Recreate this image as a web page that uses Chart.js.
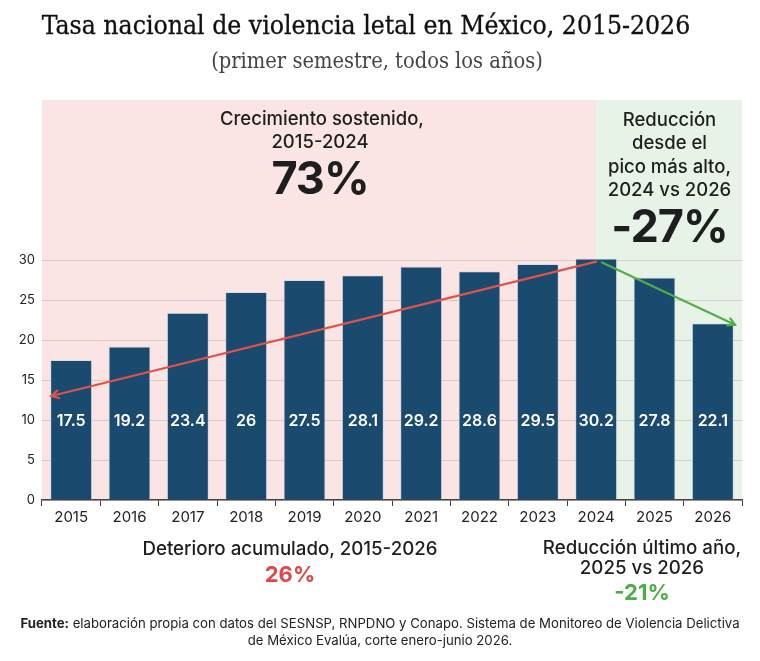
<!DOCTYPE html>
<html>
<head>
<meta charset="utf-8">
<script src="https://cdn.jsdelivr.net/npm/chart.js@4.4.1/dist/chart.umd.min.js"></script>
<style>
  html,body{margin:0;padding:0;background:#fff;}
  #wrap{position:relative;width:760px;height:661px;overflow:hidden;background:#fff;}
  #c{position:absolute;left:0;top:0;}
  .txt{position:absolute;text-align:center;white-space:nowrap;color:#1e1e1e;font-family:Inter,"Noto Sans",sans-serif;}
  .serif{font-family:"DejaVu Serif",serif;font-stretch:condensed;}
</style>
</head>
<body>
<div id="wrap">
  <canvas id="c" width="760" height="661"></canvas>
  <div class="txt serif" style="left:0;width:732px;top:10px;font-size:26.3px;color:#111;-webkit-text-stroke:0.3px #111;">Tasa nacional de violencia letal en México, 2015-2026</div>
  <div class="txt serif" style="left:0;width:754px;top:48px;font-size:21.7px;color:#444;">(primer semestre, todos los años)</div>

  <div class="txt" style="left:220px;width:200px;top:107px;font-size:18.5px;font-weight:500;line-height:23px;">Crecimiento sostenido,<br>2015-2024</div>
  <div class="txt" style="left:220px;width:200px;top:153px;font-size:45px;font-weight:700;line-height:50px;letter-spacing:-1px;">73%</div>

  <div class="txt" style="left:597px;width:145px;top:108px;font-size:18.5px;font-weight:500;line-height:23.3px;">Reducción<br>desde el<br>pico más alto,<br>2024 vs 2026</div>
  <div class="txt" style="left:597px;width:145px;top:201px;font-size:45px;font-weight:700;line-height:50px;letter-spacing:-1px;">-27%</div>

  <div class="txt" style="left:140px;width:300px;top:537px;font-size:18.7px;font-weight:500;">Deterioro acumulado, 2015-2026</div>
  <div class="txt" style="left:140px;width:300px;top:561px;font-size:22px;font-weight:700;color:#e04848;">26%</div>

  <div class="txt" style="left:522px;width:240px;top:538px;font-size:18.7px;font-weight:500;line-height:19.5px;">Reducción último año,<br>2025 vs 2026</div>
  <div class="txt" style="left:522px;width:240px;top:579px;font-size:22px;font-weight:700;color:#4caf45;">-21%</div>

  <div class="txt" style="left:0;width:760px;top:615px;font-size:13.2px;line-height:17px;color:#222;"><b>Fuente:</b> elaboración propia con datos del SESNSP, RNPDNO y Conapo. Sistema de Monitoreo de Violencia Delictiva<br>de México Evalúa, corte enero-junio 2026.</div>
</div>
<script>
const years = ['2015','2016','2017','2018','2019','2020','2021','2022','2023','2024','2025','2026'];
const rates = [17.5, 19.2, 23.4, 26, 27.5, 28.1, 29.2, 28.6, 29.5, 30.2, 27.8, 22.1];
const yTicks = [0, 5, 10, 15, 20, 25, 30];
// arrow endpoints as [category index, value]
const growthArrowFrom = [9, 29.8];
const growthArrowTo = [-0.34, 13.0];
const dropArrowFrom = [9.1, 29.7];
const dropArrowTo = [11.38, 21.9];
// zone split (category index where the green zone begins)
const zoneSplit = 9;

const bgPlugin = {
  id: 'zones',
  beforeDraw(chart) {
    const {ctx, chartArea: a, scales: {x}} = chart;
    const split = x.getPixelForValue(zoneSplit);
    ctx.save();
    ctx.fillStyle = '#fae4e4';
    ctx.fillRect(a.left, a.top, split - a.left, a.bottom - a.top);
    ctx.fillStyle = '#e8f3e7';
    ctx.fillRect(split, a.top, a.right - split, a.bottom - a.top);
    ctx.restore();
  }
};

function arrow(ctx, x1, y1, x2, y2, color) {
  ctx.save();
  ctx.strokeStyle = color;
  ctx.lineWidth = 2.2;
  ctx.lineCap = 'round';
  ctx.beginPath();
  ctx.moveTo(x1, y1);
  ctx.lineTo(x2, y2);
  ctx.stroke();
  const ang = Math.atan2(y2 - y1, x2 - x1);
  const L = 8, w = 0.5;
  ctx.beginPath();
  ctx.moveTo(x2 - L * Math.cos(ang - w), y2 - L * Math.sin(ang - w));
  ctx.lineTo(x2, y2);
  ctx.lineTo(x2 - L * Math.cos(ang + w), y2 - L * Math.sin(ang + w));
  ctx.stroke();
  ctx.restore();
}

const overlayPlugin = {
  id: 'overlay',
  afterDatasetsDraw(chart) {
    const {ctx, scales: {x, y}} = chart;
    const meta = chart.getDatasetMeta(0);
    ctx.save();
    ctx.fillStyle = '#ffffff';
    ctx.font = '600 16px Inter, "Noto Sans", sans-serif';
    ctx.textAlign = 'center';
    ctx.textBaseline = 'middle';
    const ly = y.getPixelForValue(9.9);
    meta.data.forEach((bar, i) => {
      ctx.fillText(String(rates[i]), bar.x, ly);
    });
    ctx.restore();
    arrow(ctx, x.getPixelForValue(growthArrowFrom[0]), y.getPixelForValue(growthArrowFrom[1]),
          x.getPixelForValue(growthArrowTo[0]), y.getPixelForValue(growthArrowTo[1]), '#e2524b');
    arrow(ctx, x.getPixelForValue(dropArrowFrom[0]), y.getPixelForValue(dropArrowFrom[1]),
          x.getPixelForValue(dropArrowTo[0]), y.getPixelForValue(dropArrowTo[1]), '#52ad48');
  }
};

new Chart(document.getElementById('c'), {
  type: 'bar',
  data: {
    labels: years,
    datasets: [{
      data: rates,
      backgroundColor: '#1b4a6f',
      borderColor: 'rgba(200,215,230,0.7)',
      borderWidth: 1,
      barPercentage: 0.72,
      categoryPercentage: 1
    }]
  },
  options: {
    responsive: false,
    animation: false,
    layout: { padding: { left: 0, right: 18, top: 100, bottom: 131 } },
    plugins: { legend: { display: false }, tooltip: { enabled: false } },
    scales: {
      x: {
        afterFit(s) { s.height = 30; },
        grid: { display: true, drawOnChartArea: false, drawTicks: true, tickLength: 6, tickColor: '#444', offset: true },
        border: { display: true, color: '#444', width: 1.5 },
        ticks: { color: '#222', font: { family: 'Inter, "Noto Sans", sans-serif', size: 15 }, padding: 2 }
      },
      y: {
        min: 0, max: 50,
        afterFit(s) { s.width = 42; },
        afterBuildTicks(s) { s.ticks = yTicks.map(v => ({ value: v })); },
        grid: { color: 'rgba(120,100,100,0.22)', lineWidth: 1, drawTicks: false },
        border: { display: false },
        ticks: { color: '#222', font: { family: 'Inter, "Noto Sans", sans-serif', size: 13 }, padding: 7 }
      }
    }
  },
  plugins: [bgPlugin, overlayPlugin]
});
</script>
</body>
</html>
